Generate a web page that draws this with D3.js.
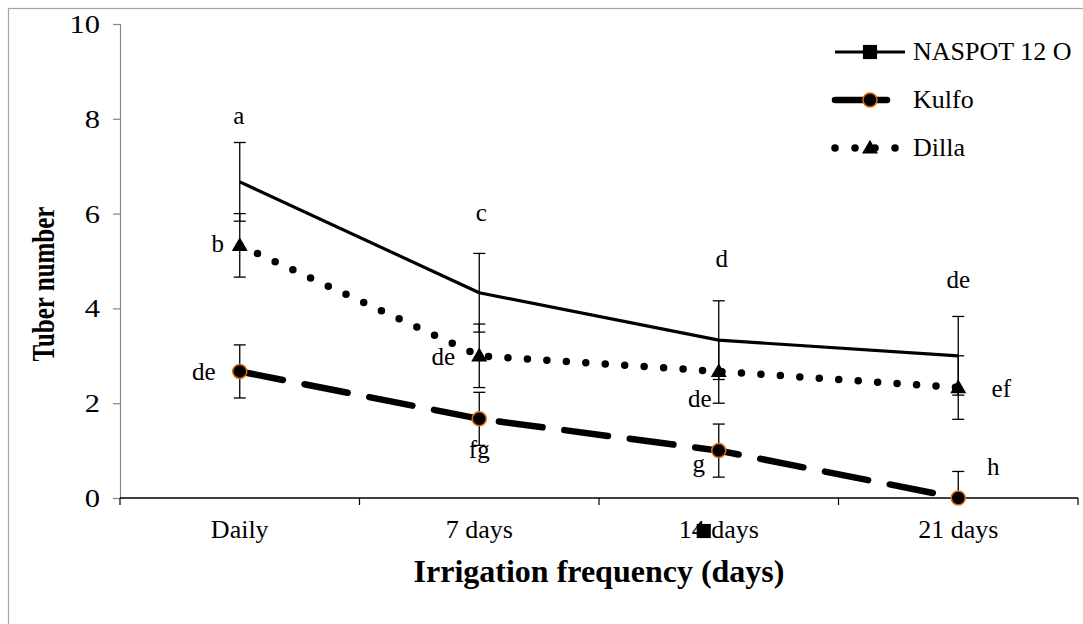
<!DOCTYPE html>
<html>
<head>
<meta charset="utf-8">
<script src="https://cdn.jsdelivr.net/npm/d3@7"></script>
<style>
  html, body { margin: 0; padding: 0; background: #fff; }
  svg { display: block; }
  svg text { font-family: "Liberation Serif", "Times New Roman", serif; }
</style>
</head>
<body>
<svg id="chart" width="1083" height="624"></svg>
<script>
// Irrigation frequency categories
const categories = ["Daily", "7 days", "14 days", "21 days"];

// Mean tuber number per variety
const naspotValues = [6.67, 4.33, 3.33, 3.0];
const kulfoValues  = [2.67, 1.67, 1.0, 0.0];
const dillaValues  = [5.33, 3.0, 2.67, 2.33];

// Error bar half-widths per variety
const naspotErrors = [0.83, 0.83, 0.83, 0.83];
const kulfoErrors  = [0.56, 0.56, 0.56, 0.56];
const dillaErrors  = [0.67, 0.67, 0.67, 0.67];

// Mean separation letters
const naspotLetters = ["a", "c", "d", "de"];
const kulfoLetters  = ["de", "fg", "g", "h"];
const dillaLetters  = ["b", "de", "de", "ef"];

const yTicks = [0, 2, 4, 6, 8, 10];

const seriesNames = ["NASPOT 12 O", "Kulfo", "Dilla"];

// ---- layout -------------------------------------------------------------
const FONT = "Liberation Serif, Times New Roman, serif";
const plot = { left: 120, right: 1078, top: 24, bottom: 498 };
const svg = d3.select("#chart");

const x = d3.scaleBand().domain(categories).range([plot.left, plot.right]).padding(0);
const xc = c => x(c) + x.bandwidth() / 2;
const y = d3.scaleLinear().domain([0, 10]).range([plot.bottom, plot.top]);

// letter offsets (px) from each point
const letterOffsets = {
  "NASPOT 12 O": [[-1, -58], [2, -72], [3, -73], [0, -68]],
  "Kulfo":       [[-36, 9], [0, 39], [-20, 21], [35, -23]],
  "Dilla":       [[-22, 7], [-36, 9], [-19, 36], [43, 9]]
};

const series = [
  { name: seriesNames[0], values: naspotValues, errors: naspotErrors, letters: naspotLetters,
    width: 3.2, dash: null, cap: "butt", marker: "none" },
  { name: seriesNames[1], values: kulfoValues, errors: kulfoErrors, letters: kulfoLetters,
    width: 6.5, dash: "44,22", cap: "round", marker: "circle" },
  { name: seriesNames[2], values: dillaValues, errors: dillaErrors, letters: dillaLetters,
    width: 7.5, dash: "0,19.5", cap: "round", marker: "triangle" }
];

// outer frame
svg.append("rect")
  .attr("x", 8.5).attr("y", 8.5)
  .attr("width", 1100).attr("height", 700)
  .attr("fill", "none").attr("stroke", "#a6a6a6").attr("stroke-width", 1.2);

svg.append("defs").append("clipPath").attr("id", "plotClip")
  .append("rect")
  .attr("x", plot.left).attr("y", plot.top)
  .attr("width", plot.right - plot.left).attr("height", plot.bottom - plot.top);

// ---- axes -----------------------------------------------------------------
const yAxis = d3.axisLeft(y).tickValues(yTicks).tickSize(7).tickFormat("");
const gy = svg.append("g").attr("transform", `translate(${plot.left},0)`).call(yAxis);
gy.select(".domain").attr("stroke", "#868686").attr("stroke-width", 1.2);
gy.selectAll(".tick line").attr("stroke", "#868686").attr("stroke-width", 1.2);

// y tick labels (slightly widened glyphs)
svg.append("g").selectAll("g").data(yTicks).join("g")
  .attr("transform", d => `translate(100,${y(d) + 9}) scale(1.22,1)`)
  .append("text")
  .attr("text-anchor", "end").attr("font-size", 25).attr("font-family", FONT)
  .text(d => d);

const gx = svg.append("g").attr("transform", `translate(0,${plot.bottom})`);
gx.append("line").attr("x1", plot.left).attr("x2", plot.right)
  .attr("stroke", "#000").attr("stroke-width", 1.6);
const edges = categories.map(c => x(c)).concat([plot.right]);
gx.selectAll("line.tk").data(edges).join("line").attr("class", "tk")
  .attr("x1", d => d).attr("x2", d => d).attr("y1", 0).attr("y2", 7)
  .attr("stroke", "#000").attr("stroke-width", 1.2);
gx.selectAll("text.cat").data(categories).join("text").attr("class", "cat")
  .attr("x", d => xc(d)).attr("y", 40).attr("font-family", FONT)
  .attr("text-anchor", "middle").attr("font-size", 26).text(d => d);

// axis titles
svg.append("text")
  .attr("x", (plot.left + plot.right) / 2).attr("y", 582).attr("font-family", FONT)
  .attr("text-anchor", "middle").attr("font-size", 32).attr("font-weight", "bold")
  .text("Irrigation frequency (days)");

svg.append("text")
  .attr("transform", `translate(54,${284}) scale(1.3,1) rotate(-90)`).attr("font-family", FONT)
  .attr("text-anchor", "middle").attr("font-size", 25).attr("font-weight", "bold")
  .text("Tuber number");

// ---- series ---------------------------------------------------------------
const line = d3.line().x(d => xc(d.c)).y(d => y(d.v));
const plotG = svg.append("g").attr("clip-path", "url(#plotClip)");

series.forEach(s => {
  const pts = categories.map((c, i) => ({ c, v: s.values[i], e: s.errors[i] }));
  plotG.append("path").datum(pts)
    .attr("d", line).attr("fill", "none")
    .attr("stroke", "#000").attr("stroke-width", s.width)
    .attr("stroke-dasharray", s.dash).attr("stroke-linecap", s.cap)
    .attr("stroke-linejoin", "round");
});

// error bars
series.forEach(s => {
  const pts = categories.map((c, i) => ({ c, v: s.values[i], e: s.errors[i] }));
  const g = plotG.append("g").attr("stroke", "#000").attr("stroke-width", 1.3);
  g.selectAll("line.v").data(pts).join("line").attr("class", "v")
    .attr("x1", d => xc(d.c)).attr("x2", d => xc(d.c))
    .attr("y1", d => y(d.v - d.e)).attr("y2", d => y(d.v + d.e));
  g.selectAll("line.t").data(pts).join("line").attr("class", "t")
    .attr("x1", d => xc(d.c) - 6).attr("x2", d => xc(d.c) + 6)
    .attr("y1", d => y(d.v + d.e)).attr("y2", d => y(d.v + d.e));
  g.selectAll("line.b").data(pts).join("line").attr("class", "b")
    .attr("x1", d => xc(d.c) - 6).attr("x2", d => xc(d.c) + 6)
    .attr("y1", d => y(d.v - d.e)).attr("y2", d => y(d.v - d.e));
});

// markers
const triangle = d3.symbol().type(d3.symbolTriangle).size(110);
const square = d3.symbol().type(d3.symbolSquare).size(200);
function drawMarker(g, type, cx, cy) {
  if (type === "circle") {
    g.append("circle").attr("cx", cx).attr("cy", cy).attr("r", 7)
      .attr("fill", "#000").attr("stroke", "#E46C0A").attr("stroke-width", 1.5);
  } else if (type === "triangle") {
    g.append("path").attr("d", triangle()).attr("transform", `translate(${cx},${cy + 1})`)
      .attr("fill", "#000");
  } else if (type === "square") {
    g.append("path").attr("d", square()).attr("transform", `translate(${cx},${cy})`)
      .attr("fill", "#000");
  }
}
const markerG = svg.append("g");
series.forEach(s => {
  categories.forEach((c, i) => drawMarker(markerG, s.marker, xc(c), y(s.values[i])));
});

// letters
series.forEach(s => {
  const offs = letterOffsets[s.name];
  categories.forEach((c, i) => {
    svg.append("text")
      .attr("x", xc(c) + offs[i][0]).attr("y", y(s.values[i]) + offs[i][1])
      .attr("text-anchor", "middle").attr("font-size", 25).attr("font-family", FONT)
      .text(s.letters[i]);
  });
});

// stray square marker sitting on the "14 days" tick label
drawMarker(svg, "square", xc(categories[2]) - 15, plot.bottom + 33);

// ---- legend ---------------------------------------------------------------
const legend = svg.append("g");
const legendRows = [52, 100, 148];
series.forEach((s, i) => {
  const ly = legendRows[i];
  const x0 = 835, x1 = i === 1 ? 887 : 905;
  legend.append("line").attr("x1", x0).attr("x2", x1).attr("y1", ly).attr("y2", ly)
    .attr("stroke", "#000").attr("stroke-width", i === 0 ? 3.2 : s.width)
    .attr("stroke-linecap", i === 0 ? "butt" : "round")
    .attr("stroke-dasharray", i === 2 ? "0,20" : null);
  drawMarker(legend, i === 0 ? "square" : s.marker, 870, ly);
  legend.append("text").attr("x", 913).attr("y", ly + 8).attr("font-family", FONT)
    .attr("font-size", 26).text(s.name);
});
</script>
</body>
</html>
